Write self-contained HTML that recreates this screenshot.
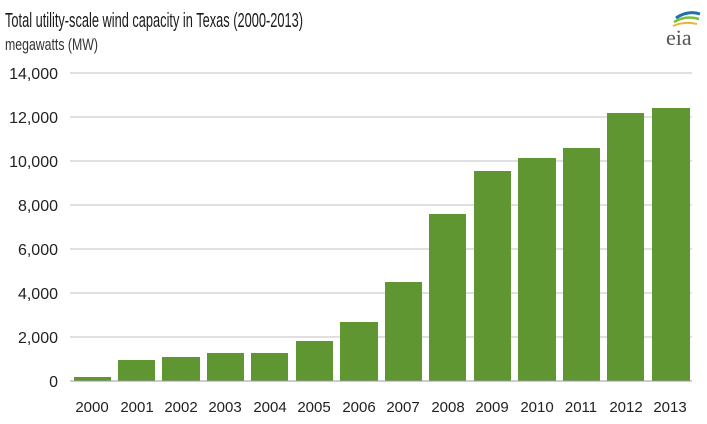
<!DOCTYPE html>
<html><head><meta charset="utf-8"><style>
body{margin:0;background:#fff}
svg{display:block;font-family:"Liberation Sans",sans-serif}
</style></head><body>
<svg width="707" height="424" viewBox="0 0 707 424">
<text x="5" y="27" font-size="20" fill="#1a1a1a" textLength="298" lengthAdjust="spacingAndGlyphs">Total utility-scale wind capacity in Texas (2000-2013)</text>
<text x="5" y="50" font-size="17" fill="#333" textLength="93" lengthAdjust="spacingAndGlyphs">megawatts  (MW)</text>
<g>
<path d="M676 18 Q688 10 700 14" stroke="#1e6fb0" stroke-width="3" fill="none"/>
<path d="M674 22 Q686 15 699 19" stroke="#7cbf3c" stroke-width="2.5" fill="none"/>
<path d="M673 26 Q684 21 697 24" stroke="#f2b23a" stroke-width="2" fill="none"/>
<text x="666" y="45" font-family="Liberation Serif,serif" font-size="22" fill="#555">eia</text>
</g>
<g stroke="#d6d6d6" stroke-width="1.5">
<line x1="70" x2="692" y1="73" y2="73"/><line x1="70" x2="692" y1="117" y2="117"/>
<line x1="70" x2="692" y1="161" y2="161"/><line x1="70" x2="692" y1="205" y2="205"/>
<line x1="70" x2="692" y1="249" y2="249"/><line x1="70" x2="692" y1="293" y2="293"/>
<line x1="70" x2="692" y1="337" y2="337"/>
</g>
<g font-size="16" fill="#222" text-anchor="end">
<text x="58" y="79">14,000</text><text x="58" y="123">12,000</text><text x="58" y="167">10,000</text>
<text x="58" y="211">8,000</text><text x="58" y="255">6,000</text><text x="58" y="299">4,000</text>
<text x="58" y="343">2,000</text><text x="58" y="387">0</text>
</g>
<g fill="#5f9632">
<rect x="74" y="377" width="37" height="4"/>
<rect x="118" y="360" width="37" height="21"/>
<rect x="162" y="357" width="38" height="24"/>
<rect x="207" y="353" width="37" height="28"/>
<rect x="251" y="353" width="37" height="28"/>
<rect x="296" y="341" width="37" height="40"/>
<rect x="340" y="322" width="38" height="59"/>
<rect x="385" y="282" width="37" height="99"/>
<rect x="429" y="214" width="37" height="167"/>
<rect x="474" y="171" width="37" height="210"/>
<rect x="518" y="158" width="38" height="223"/>
<rect x="563" y="148" width="37" height="233"/>
<rect x="607" y="113" width="37" height="268"/>
<rect x="652" y="108" width="38" height="273"/>
</g>
<line x1="70" x2="692" y1="381" y2="381" stroke="#999" stroke-width="1"/>
<g font-size="15" fill="#222" text-anchor="middle">
<text x="92" y="412">2000</text><text x="137" y="412">2001</text><text x="181" y="412">2002</text>
<text x="225" y="412">2003</text><text x="270" y="412">2004</text><text x="314" y="412">2005</text>
<text x="359" y="412">2006</text><text x="403" y="412">2007</text><text x="448" y="412">2008</text>
<text x="492" y="412">2009</text><text x="537" y="412">2010</text><text x="581" y="412">2011</text>
<text x="626" y="412">2012</text><text x="670" y="412">2013</text>
</g>
</svg>
</body></html>
